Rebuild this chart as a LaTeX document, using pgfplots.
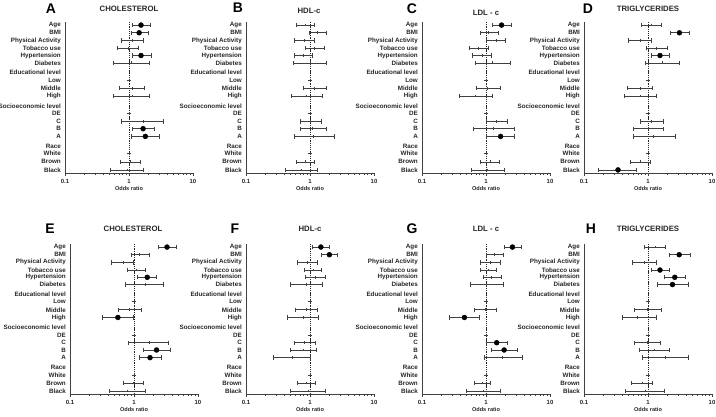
\documentclass[border=0pt]{standalone}
\usepackage{pgfplots}
\pgfplotsset{compat=1.18}
\usepackage{pgfplotstable}
\usepackage{fontspec}
\setmainfont{Liberation Sans}

\pgfplotstableread{
y pt lo hi d
0 1.54 1.11 2.16 1.54
1 1.44 1.07 2.04 1.44
2 1.11 0.75 1.66 nan
3 0.96 0.66 1.40 nan
3.95 1.54 1.11 2.22 1.54
4.9 1.07 0.57 2.06 nan
7.15 1 1 1 nan
8.2 1.11 0.71 1.74 nan
9.2 1.11 0.57 2.06 nan
11.5 1 1 1 nan
12.5 1.66 0.77 3.5 nan
13.45 1.66 1.11 2.5 1.66
14.45 1.80 1.07 3.03 1.80
16.7 1 1 1 nan
17.75 1.04 0.73 1.49 nan
18.8 0.94 0.51 1.70 nan
}\tA
\pgfplotstableread{
y pt lo hi d
0 0.85 0.62 1.18 nan
1 1.31 0.96 1.79 nan
2 0.82 0.57 1.18 nan
3 1.18 0.85 1.70 nan
3.95 0.78 0.57 1.09 nan
4.9 1.0 0.55 1.79 nan
7.15 1 1 1 nan
8.2 1.18 0.78 1.83 nan
9.2 0.86 0.51 1.55 nan
11.5 1 1 1 nan
12.5 1.02 0.70 1.53 nan
13.45 1.09 0.70 1.79 nan
14.45 1.13 0.57 2.39 nan
16.7 1 1 1 nan
17.75 0.85 0.61 1.18 nan
18.8 0.73 0.41 1.31 nan
}\tB
\pgfplotstableread{
y pt lo hi d
0 1.75 1.27 2.45 1.75
1 1.09 0.81 1.55 nan
2 1.43 1.0 2.04 nan
3 0.76 0.54 1.09 nan
3.95 0.86 0.62 1.20 nan
4.9 1.27 0.69 2.42 nan
7.15 1 1 1 nan
8.2 1.06 0.70 1.65 nan
9.2 0.69 0.385 1.24 nan
11.5 1 1 1 nan
12.5 1.43 1.0 2.14 nan
13.45 1.30 0.64 2.73 nan
14.45 1.69 1.02 2.76 1.69
16.7 1 1 1 nan
17.75 1.15 0.81 1.61 nan
18.8 1.06 0.58 1.93 nan
}\tC
\pgfplotstableread{
y pt lo hi d
0 1.11 0.79 1.62 nan
1 3.10 2.21 4.46 3.10
2 0.75 0.50 1.11 nan
3 1.34 0.93 1.99 nan
3.95 1.54 1.13 2.16 1.54
4.9 1.66 0.91 3.10 nan
7.15 1 1 1 nan
8.2 0.76 0.47 1.18 nan
9.2 0.76 0.42 1.37 nan
11.5 1 1 1 nan
12.5 1.13 0.75 1.76 nan
13.45 1.0 0.59 1.74 nan
14.45 1.23 0.59 2.69 nan
16.7 1 1 1 nan
17.75 0.77 0.53 1.10 nan
18.8 0.34 0.17 0.66 0.34
}\tD
\pgfplotstableread{
y pt lo hi d
0 3.28 2.41 4.57 3.28
1 1.23 0.91 1.71 nan
2 0.67 0.45 0.98 nan
3 1.08 0.80 1.48 nan
3.95 1.61 1.13 2.22 1.61
4.9 1.48 0.74 2.84 nan
7.15 1 1 1 nan
8.2 0.85 0.56 1.31 nan
9.2 0.56 0.32 0.99 0.56
11.5 1 1 1 nan
12.5 1.71 0.82 3.49 nan
13.45 2.25 1.39 3.71 2.25
14.45 1.78 1.22 2.66 1.78
16.7 1 1 1 nan
17.75 0.99 0.69 1.38 nan
18.8 0.78 0.41 1.48 nan
}\tE
\pgfplotstableread{
y pt lo hi d
0 1.48 1.09 2.01 1.48
1 2.01 1.48 2.66 2.01
2 0.91 0.63 1.31 nan
3 1.12 0.82 1.52 nan
3.95 1.19 0.85 1.71 nan
4.9 0.88 0.50 1.57 nan
7.15 1 1 1 nan
8.2 0.88 0.59 1.31 nan
9.2 0.78 0.45 1.34 nan
11.5 1 1 1 nan
12.5 0.82 0.56 1.20 nan
13.45 0.78 0.49 1.25 nan
14.45 0.52 0.27 1.02 nan
16.7 1 1 1 nan
17.75 0.88 0.64 1.23 nan
18.8 0.93 0.49 1.71 nan
}\tF
\pgfplotstableread{
y pt lo hi d
0 2.59 1.92 3.58 2.59
1 1.37 1.02 1.87 nan
2 1.16 0.81 1.66 nan
3 1.09 0.81 1.45 nan
3.95 1.23 0.91 1.76 nan
4.9 1.02 0.57 1.87 nan
7.15 1 1 1 nan
8.2 0.98 0.66 1.47 nan
9.2 0.46 0.27 0.80 0.46
11.5 1 1 1 nan
12.5 1.47 1.02 2.16 1.47
13.45 1.92 1.23 3.10 1.92
14.45 1.80 0.93 3.63 nan
16.7 1 1 1 nan
17.75 0.88 0.65 1.18 nan
18.8 0.91 0.50 1.66 nan
}\tG
\pgfplotstableread{
y pt lo hi d
0 1.29 0.87 1.89 nan
1 3.07 2.14 4.56 3.07
2 0.89 0.57 1.37 nan
3 1.54 1.13 2.14 1.54
3.95 2.62 1.78 3.81 2.62
4.9 2.41 1.40 4.24 2.41
7.15 1 1 1 nan
8.2 0.98 0.61 1.62 nan
9.2 0.68 0.39 1.37 nan
11.5 1 1 1 nan
12.5 0.98 0.62 1.54 nan
13.45 1.26 0.72 2.19 nan
14.45 1.89 0.81 4.30 nan
16.7 1 1 1 nan
17.75 0.80 0.55 1.16 nan
18.8 0.92 0.44 1.78 nan
}\tH

\pgfplotsset{fpanel/.style={
  scale only axis, width=128bp, height=151bp, anchor=south west,
  xmin=0.1, xmax=10, ymin=-19.2, ymax=0.4,
  axis lines=left, axis line style={-, line width=0.9pt, black!75},
  xtick={0.1,1,10}, xticklabels={0.1,1,10},
  minor xtick={0.2,0.3,0.4,0.5,0.6,0.7,0.8,0.9,2,3,4,5,6,7,8,9},
  tick align=outside, major tick length=3bp, minor tick length=1.8bp,
  tick style={line width=0.7pt, black!75},
  ytick={0,-1,-2,-3,-3.95,-4.9,-6.15,-7.15,-8.2,-9.2,-10.5,-11.5,-12.5,-13.45,-14.45,-15.75,-16.7,-17.75,-18.8},
  yticklabels={Age,BMI,Physical Activity,Tobacco use,Hypertension,Diabetes,Educational level,Low,Middle,High,Socioeconomic level,DE,C,B,A,Race,White,Brown,Black},
  ytick style={draw=none},
  yticklabel style={font=\bfseries\fontsize{6.3}{6.3}\selectfont, inner sep=1bp, text=black!85},
  xticklabel style={font=\bfseries\fontsize{6}{6}\selectfont, text=black!85},
  xlabel={Odds ratio},
  xlabel style={font=\bfseries\fontsize{5.6}{5.6}\selectfont, text=black!85, at={(axis description cs:0.5,0)}, anchor=center, yshift=-16bp},
  clip=false,
}}

\newcommand\forestplots[1]{%
  \addplot[black!85, line width=0.7pt, dash pattern=on 1.3pt off 0.9pt] coordinates {(1,0.4) (1,-19.2)};
  \addplot[black!75, only marks, mark=|, mark size=1.4pt, line width=0.6pt,
    error bars/.cd, x dir=both, x explicit, error mark=|,
    error bar style={line width=0.65pt, black!75},
    error mark options={mark size=2.2pt, line width=0.65pt, black!75}]
    table[x=pt, y expr=-\thisrow{y}, x error plus expr=\thisrow{hi}-\thisrow{pt}, x error minus expr=\thisrow{pt}-\thisrow{lo}] {#1};
  \addplot[black, only marks, mark=*, mark size=2.5pt] table[x=d, y expr=-\thisrow{y}] {#1};
}

\begin{document}
\begin{tikzpicture}
\useasboundingbox (0,0) rectangle (716bp,417bp);
\begin{semilogxaxis}[fpanel, at={(65bp,244bp)}]\forestplots{\tA}\end{semilogxaxis}
\begin{semilogxaxis}[fpanel, at={(246bp,244bp)}]\forestplots{\tB}\end{semilogxaxis}
\begin{semilogxaxis}[fpanel, at={(422bp,244bp)}]\forestplots{\tC}\end{semilogxaxis}
\begin{semilogxaxis}[fpanel, at={(584bp,244bp)}]\forestplots{\tD}\end{semilogxaxis}
\begin{semilogxaxis}[fpanel, height=150bp, at={(70bp,23bp)}]\forestplots{\tE}\end{semilogxaxis}
\begin{semilogxaxis}[fpanel, height=150bp, at={(246bp,23bp)}]\forestplots{\tF}\end{semilogxaxis}
\begin{semilogxaxis}[fpanel, height=150bp, at={(422bp,23bp)}]\forestplots{\tG}\end{semilogxaxis}
\begin{semilogxaxis}[fpanel, height=150bp, at={(584bp,23bp)}]\forestplots{\tH}\end{semilogxaxis}
\tikzset{lett/.style={font=\bfseries\fontsize{14}{14}\selectfont, inner sep=0pt}, ttl/.style={font=\bfseries\fontsize{7.8}{7.8}\selectfont, inner sep=0pt, text=black!85}}
\node[lett] at (51bp,408bp) {A};
\node[lett] at (238bp,409bp) {B};
\node[lett] at (412bp,408bp) {C};
\node[lett] at (588bp,408bp) {D};
\node[lett] at (50bp,188bp) {E};
\node[lett] at (235bp,188bp) {F};
\node[lett] at (412bp,188bp) {G};
\node[lett] at (591bp,188bp) {H};
\node[ttl] at (129bp,408.5bp) {CHOLESTEROL};
\node[ttl] at (309bp,406bp) {HDL-c};
\node[ttl] at (486bp,404bp) {LDL - c};
\node[ttl] at (648bp,408.5bp) {TRIGLYCERIDES};
\node[ttl] at (133bp,188bp) {CHOLESTEROL};
\node[ttl] at (310bp,188bp) {HDL-c};
\node[ttl] at (486bp,188bp) {LDL - c};
\node[ttl] at (648bp,188bp) {TRIGLYCERIDES};
\end{tikzpicture}
\end{document}
